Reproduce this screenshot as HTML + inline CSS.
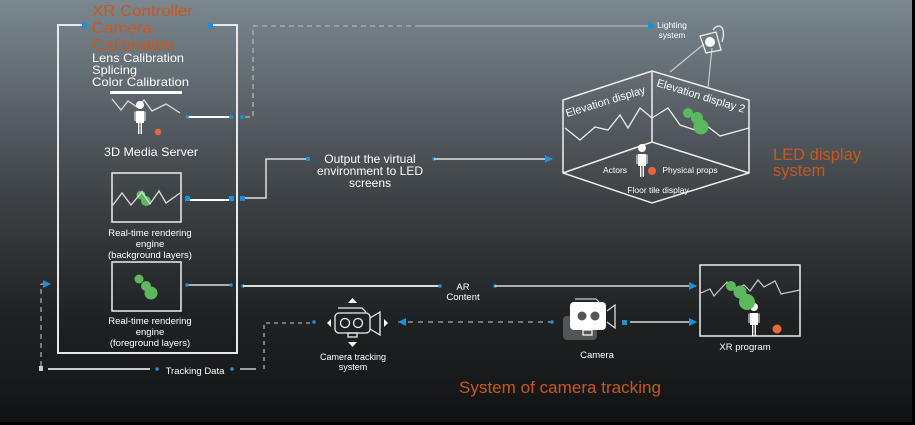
<!DOCTYPE html>
<html><head><meta charset="utf-8"><style>
html,body{margin:0;padding:0;background:#000}
svg{display:block}
text{font-family:"Liberation Sans",sans-serif}
</style></head><body>
<svg width="915" height="425" viewBox="0 0 915 425" xmlns="http://www.w3.org/2000/svg">
<defs>
<linearGradient id="bg" x1="0" y1="0" x2="0" y2="1">
<stop offset="0" stop-color="#7b8890"/>
<stop offset="0.45" stop-color="#3f4448"/>
<stop offset="0.75" stop-color="#1f2224"/>
<stop offset="1" stop-color="#121314"/>
</linearGradient>
<g id="person" fill="#fff">
<circle cx="0" cy="-27" r="4"/>
<path d="M-4,-21 H4 V-9 H2 V2 H0.6 V-9 H-0.6 V2 H-2 V-9 H-4 Z"/>
<path d="M-5.5,-20.5 H-4.5 V-11 H-5.5 Z M4.5,-20.5 H5.5 V-11 H4.5 Z"/>
</g>
<marker id="ar" markerWidth="8" markerHeight="8" refX="7" refY="4" orient="auto" markerUnits="userSpaceOnUse"><path d="M0,0 L8,4 L0,8 Z" fill="#1e90d8"/></marker>
</defs>
<rect width="915" height="425" fill="#000"/>
<rect width="912" height="422" fill="url(#bg)"/>

<!-- Main XR box -->
<g stroke="#e8e8e8" stroke-width="2" fill="none">
<path d="M84,25 H58 V353 H237 V25 H210"/>
</g>
<rect x="82" y="23" width="5" height="5" fill="#1e90d8"/>
<rect x="208" y="23" width="5" height="5" fill="#1e90d8"/>
<text x="92" y="16" font-size="16" fill="#c9581c" textLength="101" lengthAdjust="spacingAndGlyphs">XR Controller</text>
<text x="92" y="33" font-size="16" fill="#c9581c" textLength="60" lengthAdjust="spacingAndGlyphs">Camera</text>
<text x="92" y="50" font-size="16" fill="#c9581c" textLength="82" lengthAdjust="spacingAndGlyphs">Calibration</text>
<text x="92" y="62" font-size="12" fill="#fff" textLength="92" lengthAdjust="spacingAndGlyphs">Lens Calibration</text>
<text x="92" y="74" font-size="12" fill="#fff" textLength="45" lengthAdjust="spacingAndGlyphs">Splicing</text>
<text x="92" y="86" font-size="12" fill="#fff" textLength="97" lengthAdjust="spacingAndGlyphs">Color Calibration</text>
<rect x="110" y="91" width="72" height="3" fill="#fff"/>
<polyline points="112,99 121,110 128,101 137,107 144,100 152,111 166,104 180,113" fill="none" stroke="#ddd" stroke-width="1.3"/>
<use href="#person" x="140" y="132"/>
<circle cx="158" cy="132" r="3.2" fill="#e8683c"/>
<text x="151" y="156" font-size="12" fill="#fff" text-anchor="middle" textLength="94" lengthAdjust="spacingAndGlyphs">3D Media Server</text>
<line x1="186" y1="117" x2="231" y2="117" stroke="#fff" stroke-width="2"/>
<circle cx="187" cy="117" r="1.8" fill="#1e90d8"/><circle cx="231" cy="117" r="2" fill="#1e90d8"/>
<circle cx="242" cy="117" r="2" fill="#1e90d8"/>
<path d="M245,117 H253 V26 H420" fill="none" stroke="#aaa" stroke-width="1.5" stroke-dasharray="5,4"/>
<line x1="420" y1="26" x2="655" y2="26" stroke="#aaa" stroke-width="1.5" marker-end="url(#ar)"/>

<!-- box 2 -->
<rect x="112" y="173" width="69" height="49" fill="none" stroke="#eee" stroke-width="1.5"/>
<circle cx="141" cy="195" r="4.5" fill="#5cb85c"/><circle cx="146" cy="201" r="5" fill="#5cb85c"/>
<polyline points="113,205 122,193 131,205 142,192 150,204 159,191 166,203 180,193" fill="none" stroke="#ddd" stroke-width="1.3"/>
<line x1="186" y1="200" x2="231" y2="200" stroke="#fff" stroke-width="2"/>
<rect x="185" y="196" width="5" height="5" fill="#1e90d8"/><rect x="229" y="196" width="5" height="5" fill="#1e90d8"/>
<rect x="240" y="196" width="5" height="5" fill="#1e90d8"/>
<path d="M245,198 H266 V159 H306" fill="none" stroke="#ddd" stroke-width="1.5"/>
<rect x="306" y="157" width="4" height="4" fill="#1e90d8"/>
<text x="150" y="236" font-size="9.5" fill="#fff" text-anchor="middle">Real-time rendering</text>
<text x="150" y="247" font-size="9.5" fill="#fff" text-anchor="middle">engine</text>
<text x="150" y="258" font-size="9.5" fill="#fff" text-anchor="middle">(background layers)</text>
<text x="370" y="163" font-size="12" fill="#fff" text-anchor="middle">Output the virtual</text>
<text x="370" y="175" font-size="12" fill="#fff" text-anchor="middle">environment to LED</text>
<text x="370" y="187" font-size="12" fill="#fff" text-anchor="middle">screens</text>
<circle cx="434" cy="159" r="1.8" fill="#1e90d8"/>
<line x1="434" y1="159" x2="552" y2="159" stroke="#fff" stroke-width="1.3" marker-end="url(#ar)"/>

<!-- box 3 -->
<rect x="112" y="262" width="69" height="49" fill="none" stroke="#eee" stroke-width="1.5"/>
<circle cx="139" cy="279" r="4.5" fill="#5cb85c"/><circle cx="146" cy="286" r="5" fill="#5cb85c"/><circle cx="151" cy="293" r="6.5" fill="#5cb85c"/>
<text x="150" y="324" font-size="9.5" fill="#fff" text-anchor="middle">Real-time rendering</text>
<text x="150" y="335" font-size="9.5" fill="#fff" text-anchor="middle">engine</text>
<text x="150" y="346" font-size="9.5" fill="#fff" text-anchor="middle">(foreground layers)</text>
<line x1="187" y1="285" x2="231" y2="285" stroke="#ddd" stroke-width="1.5"/>
<circle cx="187" cy="285" r="1.8" fill="#1e90d8"/><circle cx="231" cy="285" r="1.8" fill="#1e90d8"/>
<circle cx="243" cy="286" r="1.8" fill="#1e90d8"/>
<line x1="243" y1="286" x2="440" y2="286" stroke="#ddd" stroke-width="2"/>
<circle cx="440" cy="286" r="1.8" fill="#1e90d8"/>
<text x="463" y="290" font-size="9.5" fill="#fff" text-anchor="middle">AR</text>
<text x="463" y="300" font-size="9.5" fill="#fff" text-anchor="middle">Content</text>
<circle cx="495" cy="286" r="1.8" fill="#1e90d8"/>
<line x1="495" y1="286" x2="696" y2="286" stroke="#fff" stroke-width="1.2" marker-end="url(#ar)"/>

<!-- tracking data loop -->
<rect x="39" y="366" width="4" height="5" fill="#ccc"/>
<path d="M41,366 V284" fill="none" stroke="#aaa" stroke-width="1.3" stroke-dasharray="5,4"/>
<line x1="41" y1="284" x2="50" y2="284" stroke="#aaa" stroke-width="1.3" marker-end="url(#ar)"/>
<line x1="48" y1="369" x2="150" y2="369" stroke="#ccc" stroke-width="2"/>
<circle cx="157" cy="369" r="1.8" fill="#1e90d8"/>
<text x="195" y="374" font-size="9.5" fill="#fff" text-anchor="middle">Tracking Data</text>
<circle cx="232" cy="369" r="1.8" fill="#1e90d8"/>
<line x1="240" y1="369" x2="256" y2="369" stroke="#ccc" stroke-width="1.5"/>
<path d="M264,369 V323 H312" fill="none" stroke="#aaa" stroke-width="1.3" stroke-dasharray="4,4"/>
<circle cx="314" cy="322" r="1.8" fill="#1e90d8"/>

<!-- camera tracking icon -->
<g fill="none" stroke="#eee" stroke-width="1.3">
<rect x="335" y="313" width="35" height="20" rx="4"/>
<circle cx="345" cy="323" r="4.5"/><circle cx="358" cy="323" r="4.5"/>
<path d="M370,318 L380,312 V335 L370,329"/>
<path d="M338,308 H362 L366,312"/>
<rect x="348" y="333" width="9" height="4"/>
</g>
<path d="M348,303 L357,303 L352.5,298 Z M348,342 L357,342 L352.5,347 Z M331,319 V327 L327,323 Z M384,319 V327 L388,323 Z" fill="#fff"/>
<text x="353" y="360" font-size="9" fill="#fff" text-anchor="middle">Camera tracking</text>
<text x="353" y="370" font-size="9" fill="#fff" text-anchor="middle">system</text>
<path d="M553,322 H398" fill="none" stroke="#aaa" stroke-width="1.3" stroke-dasharray="5,5"/>
<path d="M406,318 L398,322 L406,326 Z" fill="#1e90d8"/>
<circle cx="552" cy="322" r="1.8" fill="#1e90d8"/>

<!-- camera -->
<rect x="563" y="316" width="34" height="24" rx="4" fill="#555"/>
<rect x="570" y="302" width="36" height="28" rx="4" fill="#fff"/>
<circle cx="582" cy="316" r="4.5" fill="#555"/><circle cx="595" cy="316" r="4.5" fill="#555"/>
<path d="M607,311 L615,305 V328 L607,322" fill="none" stroke="#ddd" stroke-width="1.3"/>
<rect x="583" y="330" width="9" height="5" fill="none" stroke="#fff" stroke-width="1.2"/>
<path d="M575,299 H596 L600,303" fill="none" stroke="#ccc" stroke-width="1.2"/>
<text x="597" y="358" font-size="9.5" fill="#fff" text-anchor="middle">Camera</text>
<rect x="622" y="320" width="5" height="5" fill="#1e90d8"/>
<line x1="630" y1="322" x2="696" y2="322" stroke="#fff" stroke-width="1.2" marker-end="url(#ar)"/>

<!-- XR program -->
<rect x="700" y="265" width="100" height="71" fill="none" stroke="#eee" stroke-width="1.5"/>
<polyline points="701,293 710,289 714,296 727,282 734,290 744,285 750,291 758,280 764,287 775,281 781,294 800,290" fill="none" stroke="#ccc" stroke-width="1.2"/>
<use href="#person" x="754" y="334"/>
<circle cx="731" cy="286" r="5" fill="#5cb85c"/><circle cx="740" cy="292" r="6.5" fill="#5cb85c"/><circle cx="747" cy="302" r="8" fill="#5cb85c"/>
<circle cx="777" cy="329" r="4.5" fill="#e8683c"/>
<text x="745" y="350" font-size="9.5" fill="#fff" text-anchor="middle">XR program</text>
<text x="560" y="393" font-size="16.5" fill="#c9581c" text-anchor="middle" textLength="202" lengthAdjust="spacingAndGlyphs">System of camera tracking</text>

<!-- LED cube -->
<g fill="none" stroke="#f0f0f0" stroke-width="1.5">
<path d="M563,100 L652,71 L749,100 V173 L652,203 L563,173 Z"/>
<path d="M652,71 V142 M563,173 L652,142 L749,173"/>
<path d="M670,72 L704,44 M708,88 L712,48" stroke="#ccc" stroke-width="1.2"/>
</g>
<polyline points="565,128 580,140 595,127 608,130 620,115 628,128 640,108 652,118 668,108 680,125 695,130 702,122 720,136 749,128" fill="none" stroke="#eee" stroke-width="1.3"/>
<circle cx="688" cy="113" r="5" fill="#5cb85c"/><circle cx="697" cy="118" r="6" fill="#5cb85c"/><circle cx="701" cy="127" r="7.5" fill="#5cb85c"/>
<text font-size="11" fill="#fff" transform="translate(567,117) rotate(-17)">Elevation display</text>
<text font-size="11" fill="#fff" transform="translate(656,86) rotate(17)">Elevation display 2</text>
<use href="#person" x="642" y="175"/>
<circle cx="652" cy="171" r="4" fill="#e8683c"/>
<text x="615" y="173" font-size="8.5" fill="#fff" text-anchor="middle">Actors</text>
<text x="690" y="173" font-size="8.5" fill="#fff" text-anchor="middle">Physical props</text>
<text x="658" y="193" font-size="8.5" fill="#fff" text-anchor="middle">Floor tile display</text>
<!-- lamp -->
<path d="M700,36 L716,32 L721,50 L706,53 Z" fill="none" stroke="#eee" stroke-width="1.3"/>
<circle cx="710" cy="42" r="5" fill="#fff"/>
<path d="M713,30 C718,22 727,26 722,42" fill="none" stroke="#eee" stroke-width="1.2"/>
<text x="672" y="28" font-size="8.5" fill="#fff" text-anchor="middle">Lighting</text>
<text x="672" y="38" font-size="8.5" fill="#fff" text-anchor="middle">system</text>
<text x="773" y="160" font-size="16.5" fill="#c9581c" textLength="88" lengthAdjust="spacingAndGlyphs">LED display</text>
<text x="773" y="176" font-size="16.5" fill="#c9581c">system</text>
</svg>
</body></html>
